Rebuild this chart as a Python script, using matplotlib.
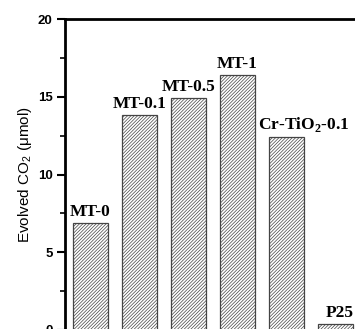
import matplotlib
matplotlib.use("Agg")
import matplotlib.pyplot as plt

# data
samples = ["MT-0", "MT-0.1", "MT-0.5", "MT-1", "Cr-TiO$_\\mathbf{2}$-0.1", "P25"]
co2 = [6.85, 13.8, 14.9, 16.4, 12.4, 0.4]

plt.rcParams['font.family'] = 'Liberation Sans'
plt.rcParams['mathtext.fontset'] = 'custom'
plt.rcParams['mathtext.rm'] = 'Liberation Sans'
plt.rcParams['mathtext.bf'] = 'Liberation Serif:bold'
plt.rcParams['hatch.linewidth'] = 0.5
plt.rcParams['hatch.color'] = '#808080'

fig = plt.figure(figsize=(3.55, 3.29), dpi=100)
# axes run past the right and bottom edges, the picture is cropped
ax = fig.add_axes([65/355, -1/329, 0.955, 311/329])

x = range(len(samples))
bars = ax.bar(x, co2, width=0.714, color='white', edgecolor='#444444',
              linewidth=0.9, hatch='//////////')

# labels sit above the bars; the long Cr one is nudged right like the original
nudge = [0, 0, 0, 0, 0.36, 0.08]
for xi, v, name, dx in zip(x, co2, samples, nudge):
    ax.text(xi + dx, v + 0.2, name, ha='center', va='bottom', family='Liberation Serif',
            fontweight='bold', fontsize=12.5)

ax.set_xlim(-0.52, 6.4)
ax.set_ylim(0, 20)
ax.set_yticks([0, 5, 10, 15, 20])
ax.set_yticks([2.5, 7.5, 12.5, 17.5], minor=True)
ax.set_xticks([])
ax.tick_params(axis='y', which='major', direction='out', length=6, width=1.5, labelsize=9.5, pad=3)
ax.tick_params(axis='y', which='minor', direction='out', length=3.5, width=1.2)
for lab in ax.get_yticklabels():
    lab.set_fontweight('bold')

for s in ['left', 'top']:
    ax.spines[s].set_linewidth(2)
ax.spines['right'].set_visible(False)
ax.spines['bottom'].set_visible(False)

ax.set_ylabel("Evolved CO$_2$ (μmol)", fontsize=11, labelpad=3)

plt.savefig('out.png', dpi=100)
